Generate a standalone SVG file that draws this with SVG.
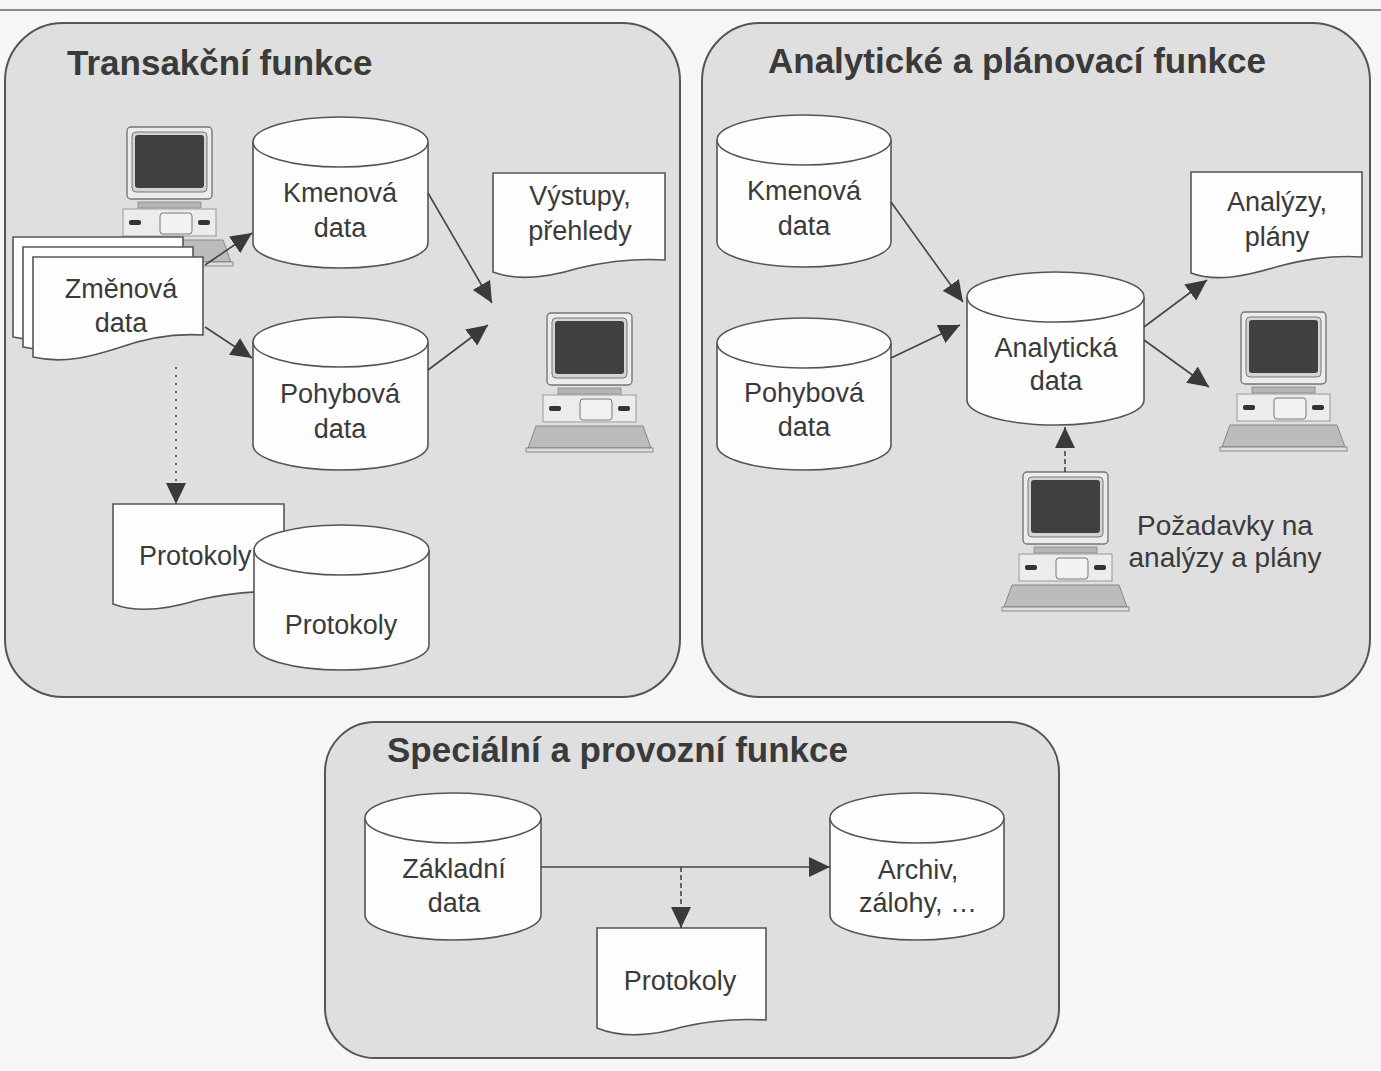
<svg xmlns="http://www.w3.org/2000/svg" xmlns:xlink="http://www.w3.org/1999/xlink" width="1381" height="1071" viewBox="0 0 1381 1071">
<style>
.panel{fill:#dfdfdf;stroke:#555;stroke-width:2}
.title{font-family:"Liberation Sans",Arial,sans-serif;font-weight:bold;font-size:35px;fill:#3a3a3a}
.lbl{font-family:"Liberation Sans",Arial,sans-serif;font-size:27px;fill:#3a3a3a;text-anchor:middle}
.shape{fill:#fdfdfd;stroke:#555;stroke-width:1.6}
.conn{fill:none;stroke:#444;stroke-width:1.6}
.dot{stroke-dasharray:2 6}
.dash{stroke-dasharray:5 3}
</style>
<defs>
<marker id="ah" markerUnits="userSpaceOnUse" markerWidth="22" markerHeight="20" refX="21" refY="10" orient="auto">
<path d="M0,0 L21,10 L0,20 Z" fill="#3a3a3a"/>
</marker>
<g id="pc">
<rect x="0" y="0" width="85" height="72" rx="4" fill="#ececec" stroke="#777" stroke-width="1.4"/>
<rect x="5" y="5" width="75" height="60" rx="4" fill="#d4d4d4" stroke="#777" stroke-width="1"/>
<rect x="8" y="8" width="69" height="53" rx="3" fill="#404040"/>
<rect x="11" y="75" width="63" height="6" fill="#b5b5b5" stroke="#888" stroke-width="0.8"/>
<rect x="-4" y="82" width="93" height="27" fill="#ececec" stroke="#999" stroke-width="1"/>
<rect x="2" y="93" width="12" height="5" rx="2" fill="#333"/>
<rect x="33" y="86" width="32" height="21" rx="3" fill="#f2f2f2" stroke="#777" stroke-width="1"/>
<rect x="71" y="93" width="12" height="5" rx="2" fill="#333"/>
<path d="M-11,113 H96 L104,135 H-19 Z" fill="#bcbcbc" stroke="#888" stroke-width="1"/>
<rect x="-21" y="135" width="127" height="4" fill="#dedede" stroke="#777" stroke-width="0.8"/>
</g>
</defs>
<rect x="0" y="0" width="1381" height="1071" fill="#f6f6f6"/>
<line x1="0" y1="10" x2="1381" y2="10" stroke="#666" stroke-width="1.5"/>

<g id="panel-transakcni">
<rect class="panel" x="5" y="23" width="675" height="674" rx="58"/>
<text class="title" x="67" y="75">Transakční funkce</text>
</g>
<g id="panel-analyticke">
<rect class="panel" x="702" y="23" width="668" height="674" rx="58"/>
<text class="title" x="768" y="73">Analytické a plánovací funkce</text>
</g>
<g id="panel-specialni">
<rect class="panel" x="325" y="722" width="734" height="336" rx="50"/>
<text class="title" x="387" y="762">Speciální a provozní funkce</text>
</g>

<g id="pc-vstup"><use xlink:href="#pc" x="127" y="127"/></g>

<g id="zmenova-data">
<path class="shape" d="M13,237 H183 V315 C149,313 123,319 98,328 C70,337 43,344 13,337 Z"/>
<path class="shape" d="M23,247 H193 V325 C159,323 133,329 108,338 C80,347 53,354 23,347 Z"/>
<path class="shape" d="M33,257 H203 V335 C169,333 143,339 118,348 C90,357 63,364 33,357 Z"/>
<text class="lbl" x="121" y="298">Změnová</text>
<text class="lbl" x="121" y="332">data</text>
</g>

<g id="kmenova-data-1">
<path class="shape" d="M253,142 V243 A87.5,25 0 0 0 428,243 V142"/>
<ellipse class="shape" cx="340.5" cy="142" rx="87.5" ry="25"/>
<text class="lbl" x="340" y="202">Kmenová</text>
<text class="lbl" x="340" y="237">data</text>
</g>

<g id="pohybova-data-1">
<path class="shape" d="M253,342 V445 A87.5,25 0 0 0 428,445 V342"/>
<ellipse class="shape" cx="340.5" cy="342" rx="87.5" ry="25"/>
<text class="lbl" x="340" y="403">Pohybová</text>
<text class="lbl" x="340" y="438">data</text>
</g>

<g id="vystupy">
<path class="shape" d="M493,173 H665 V260 C631,258 605,262 579,268 C553,276 519,282 493,272 Z"/>
<text class="lbl" x="580" y="205">Výstupy,</text>
<text class="lbl" x="580" y="240">přehledy</text>
</g>

<g id="pc-vystup"><use xlink:href="#pc" x="547" y="313"/></g>

<g id="protokoly-doc-1">
<path class="shape" d="M113,504 H284 V592 C250,590 224,594 198,600 C172,608 139,614 113,604 Z"/>
<text class="lbl" x="139" y="565" style="text-anchor:start">Protokoly</text>
</g>

<g id="protokoly-db-1">
<path class="shape" d="M254,550 V645 A87.5,25 0 0 0 429,645 V550"/>
<ellipse class="shape" cx="341.5" cy="550" rx="87.5" ry="25"/>
<text class="lbl" x="341" y="634">Protokoly</text>
</g>

<g id="kmenova-data-2">
<path class="shape" d="M717,140 V242 A87,25 0 0 0 891,242 V140"/>
<ellipse class="shape" cx="804" cy="140" rx="87" ry="25"/>
<text class="lbl" x="804" y="200">Kmenová</text>
<text class="lbl" x="804" y="235">data</text>
</g>

<g id="pohybova-data-2">
<path class="shape" d="M717,343 V445 A87,25 0 0 0 891,445 V343"/>
<ellipse class="shape" cx="804" cy="343" rx="87" ry="25"/>
<text class="lbl" x="804" y="402">Pohybová</text>
<text class="lbl" x="804" y="436">data</text>
</g>

<g id="analyticka-data">
<path class="shape" d="M967,297 V400 A88.5,25 0 0 0 1144,400 V297"/>
<ellipse class="shape" cx="1055.5" cy="297" rx="88.5" ry="25"/>
<text class="lbl" x="1056" y="357">Analytická</text>
<text class="lbl" x="1056" y="390">data</text>
</g>

<g id="analyzy-plany">
<path class="shape" d="M1191,172 H1362 V257 C1328,255 1302,260 1276,267 C1250,275 1217,283 1191,273 Z"/>
<text class="lbl" x="1277" y="211">Analýzy,</text>
<text class="lbl" x="1277" y="246">plány</text>
</g>

<g id="pc-analyzy"><use xlink:href="#pc" x="1241" y="312"/></g>

<g id="pc-pozadavky">
<use xlink:href="#pc" x="1023" y="472"/>
<text class="lbl" x="1225" y="535" style="font-size:28px">Požadavky na</text>
<text class="lbl" x="1225" y="567" style="font-size:28px">analýzy a plány</text>
</g>

<g id="zakladni-data">
<path class="shape" d="M365,818 V915 A88,25 0 0 0 541,915 V818"/>
<ellipse class="shape" cx="453" cy="818" rx="88" ry="25"/>
<text class="lbl" x="454" y="878">Základní</text>
<text class="lbl" x="454" y="912">data</text>
</g>

<g id="archiv">
<path class="shape" d="M830,818 V915 A87,25 0 0 0 1004,915 V818"/>
<ellipse class="shape" cx="917" cy="818" rx="87" ry="25"/>
<text class="lbl" x="918" y="879">Archiv,</text>
<text class="lbl" x="918" y="912">zálohy, …</text>
</g>

<g id="protokoly-doc-3">
<path class="shape" d="M597,928 H766 V1020 C732,1018 707,1021 682,1027 C656,1035 623,1039 597,1028 Z"/>
<text class="lbl" x="680" y="990">Protokoly</text>
</g>

<g id="connectors">
<line class="conn" x1="205" y1="265" x2="252" y2="233" marker-end="url(#ah)"/>
<line class="conn" x1="205" y1="327" x2="252" y2="358" marker-end="url(#ah)"/>
<line class="conn" x1="428" y1="193" x2="492" y2="303" marker-end="url(#ah)"/>
<line class="conn" x1="428" y1="370" x2="488" y2="325" marker-end="url(#ah)"/>
<line class="conn dot" x1="176" y1="367" x2="176" y2="504" marker-end="url(#ah)"/>
<line class="conn" x1="891" y1="202" x2="963" y2="302" marker-end="url(#ah)"/>
<line class="conn" x1="891" y1="358" x2="960" y2="325" marker-end="url(#ah)"/>
<line class="conn" x1="1144" y1="327" x2="1207" y2="280" marker-end="url(#ah)"/>
<line class="conn" x1="1144" y1="340" x2="1209" y2="387" marker-end="url(#ah)"/>
<line class="conn dash" x1="1065" y1="472" x2="1065" y2="427" marker-end="url(#ah)"/>
<line class="conn" x1="541" y1="867" x2="830" y2="867" marker-end="url(#ah)"/>
<line class="conn dash" x1="681" y1="867" x2="681" y2="928" marker-end="url(#ah)"/>
</g>
</svg>
